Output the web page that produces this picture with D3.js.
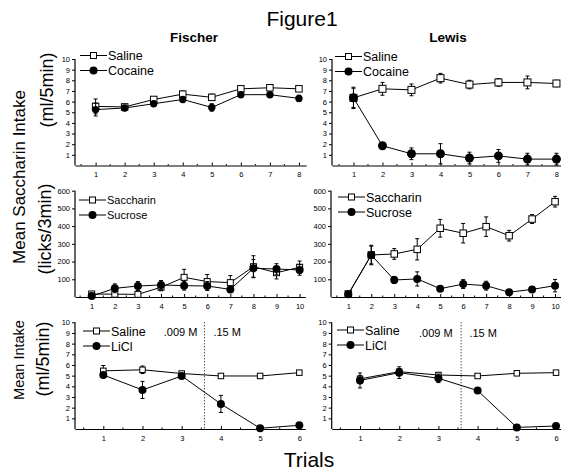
<!DOCTYPE html>
<html><head><meta charset="utf-8">
<script src="https://cdn.jsdelivr.net/npm/d3@7"></script>
<style>body{margin:0;background:#fff}svg{display:block}text{font-family:"Liberation Sans",Arial,sans-serif;fill:#000}</style>
</head><body><svg id="c" width="561" height="475"></svg>
<script>
// ---------- data ----------
const trials8 = [1, 2, 3, 4, 5, 6, 7, 8];
const trials10 = [1, 2, 3, 4, 5, 6, 7, 8, 9, 10];
const trials6 = [1, 2, 3, 4, 5, 6];
const ticksMl = [1, 2, 3, 4, 5, 6, 7, 8, 9, 10];
const ticksLicks = [100, 200, 300, 400, 500, 600];

// Row 1: saccharin intake (ml/5min), saline vs cocaine
const fischerSaline = [5.55, 5.5, 6.2, 6.7, 6.4, 7.2, 7.3, 7.2];
const fischerSalineErr = [0.7, 0.2, 0.15, 0.3, 0.3, 0.2, 0.2, 0.2];
const fischerCocaine = [5.25, 5.4, 5.8, 6.2, 5.45, 6.65, 6.65, 6.3];
const fischerCocaineErr = [0.6, 0.25, 0.2, 0.2, 0.35, 0.15, 0.2, 0.3];
const lewisSaline = [6.35, 7.2, 7.1, 8.2, 7.6, 7.8, 7.8, 7.7];
const lewisSalineErr = [1.0, 0.6, 0.55, 0.45, 0.4, 0.35, 0.6, 0.3];
const lewisCocaine = [6.35, 1.85, 1.1, 1.1, 0.7, 0.9, 0.6, 0.6];
const lewisCocaineErr = [0.9, 0.3, 0.55, 0.95, 0.55, 0.6, 0.55, 0.55];

// Row 2: licks/3min, saccharin vs sucrose
const fischerSaccharin = [17, 16, 15, 55, 111, 87, 81, 171, 137, 168];
const fischerSaccharinErr = [10, 10, 10, 20, 45, 40, 40, 62, 35, 35];
const fischerSucrose = [5, 49, 62, 68, 64, 62, 43, 162, 158, 153];
const fischerSucroseErr = [5, 25, 25, 25, 25, 25, 15, 50, 30, 30];
const lewisSaccharin = [17, 237, 243, 269, 388, 360, 397, 346, 440, 538];
const lewisSaccharinErr = [8, 55, 30, 60, 50, 55, 55, 30, 25, 30];
const lewisSucrose = [15, 237, 96, 102, 47, 73, 64, 27, 43, 64];
const lewisSucroseErr = [8, 50, 20, 40, 12, 25, 25, 10, 15, 35];

// Row 3: intake (ml/5min), saline vs LiCl
const fischerSaline3 = [5.45, 5.55, 5.2, 4.97, 4.97, 5.28];
const fischerSaline3Err = [0.5, 0.35, 0.2, 0.1, 0.1, 0.15];
const fischerLiCl = [5.06, 3.66, 4.97, 2.35, 0.07, 0.35];
const fischerLiClErr = [0.2, 0.8, 0.2, 0.8, 0.05, 0.1];
const lewisSaline3 = [4.7, 5.37, 5.06, 4.97, 5.22, 5.28];
const lewisSaline3Err = [0.3, 0.3, 0.2, 0.1, 0.1, 0.1];
const lewisLiCl = [4.55, 5.28, 4.75, 3.6, 0.15, 0.28];
const lewisLiClErr = [0.7, 0.55, 0.4, 0.1, 0.05, 0.05];
const concentrationSwitch = 3.58;
const concentrationLabels = [".009 M", ".15 M"];

// ---------- drawing ----------
const svg = d3.select("#c");
const fmt = d3.format("d");

function panel(p) {
  const g = svg.append("g");
  const x = d3.scaleLinear().domain(p.xd).range(p.xr);
  const y = d3.scaleLinear().domain(p.yd).range(p.yr);
  // axes
  const xAxis = d3.axisBottom(x).tickValues(p.trials).tickFormat(fmt).tickSizeInner(-3).tickSizeOuter(0).tickPadding(6);
  const gx = g.append("g").attr("transform", `translate(0,${p.yr[0]})`).call(xAxis);
  gx.selectAll("text").attr("font-size", 7.5).attr("dy", "0.75em").attr("fill", "#222");
  gx.selectAll("line").attr("stroke", "#000");
  gx.select(".domain").attr("stroke", "#000").attr("stroke-width", 1.2);
  // minor x ticks
  const minors = p.trials.map(t => t + 0.5).concat([p.trials[0] - 0.5]).filter(v => v > p.xd[0] && v < p.xd[1]);
  g.selectAll(".mx").data(minors).join("line")
    .attr("x1", d => x(d)).attr("x2", d => x(d))
    .attr("y1", p.yr[0]).attr("y2", p.yr[0] - 1.5).attr("stroke", "#000");
  const yAxis = d3.axisLeft(y).tickValues(p.yticks).tickFormat(fmt).tickSizeInner(3).tickSizeOuter(0).tickPadding(2);
  const gy = g.append("g").attr("transform", `translate(${p.xr[0]},0)`).call(yAxis);
  gy.selectAll("text").attr("font-size", 7.5).attr("fill", "#222");
  gy.selectAll("line").attr("stroke", "#000");
  gy.select(".domain").attr("stroke", "#000").attr("stroke-width", 1.2)
    .attr("d", `M0,${p.yr[0]}V${p.yr[1]}`);

  // dotted divider
  if (p.divider) {
    g.append("line").attr("x1", x(p.divider)).attr("x2", x(p.divider))
      .attr("y1", y(p.yd[1])).attr("y2", p.yr[0])
      .attr("stroke", "#000").attr("stroke-dasharray", "1,2");
    g.append("text").attr("x", x(p.divider) - p.divOff[0]).attr("y", p.divY)
      .attr("text-anchor", "end").attr("font-size", 11).text(concentrationLabels[0]);
    g.append("text").attr("x", x(p.divider) + p.divOff[1]).attr("y", p.divY)
      .attr("font-size", 11).text(concentrationLabels[1]);
  }

  const line = d3.line().x(d => x(d[0])).y(d => y(d[1]));
  p.series.forEach(s => {
    const pts = p.trials.map((t, i) => [t, s.v[i], s.e[i]]);
    g.append("path").attr("d", line(pts)).attr("fill", "none").attr("stroke", "#000").attr("stroke-width", 1);
    const eb = g.append("g").attr("stroke", "#000").attr("stroke-width", 1);
    pts.forEach(d => {
      const xx = x(d[0]), yt = y(d[1] + d[2]), yb = y(Math.max(p.yd[0], d[1] - d[2]));
      eb.append("line").attr("x1", xx).attr("x2", xx).attr("y1", yt).attr("y2", yb);
      eb.append("line").attr("x1", xx - 2).attr("x2", xx + 2).attr("y1", yt).attr("y2", yt);
      eb.append("line").attr("x1", xx - 2).attr("x2", xx + 2).attr("y1", yb).attr("y2", yb);
    });
    pts.forEach(d => marker(g, s.shape, x(d[0]), y(d[1]), s.shape === "sq" ? p.sq : p.r));
  });

  // legend
  p.series.forEach((s, i) => {
    const ly = p.leg[1] + i * p.leg[3];
    g.append("line").attr("x1", p.leg[0]).attr("x2", p.leg[0] + 27).attr("y1", ly).attr("y2", ly)
      .attr("stroke", "#000").attr("stroke-width", 1);
    marker(g, s.shape, p.leg[0] + 13.5, ly, s.shape === "sq" ? 6 : 4);
    g.append("text").attr("x", p.leg[0] + 28).attr("y", ly).attr("dy", "0.36em")
      .attr("font-size", p.leg[2]).text(s.name);
  });

  if (p.title) {
    g.append("text").attr("x", p.title[1]).attr("y", 42).attr("text-anchor", "middle")
      .attr("font-size", 13.5).attr("font-weight", "bold").text(p.title[0]);
  }
}

function marker(g, shape, cx, cy, s) {
  if (shape === "sq") {
    g.append("rect").attr("x", cx - s / 2).attr("y", cy - s / 2).attr("width", s).attr("height", s)
      .attr("fill", "#fff").attr("stroke", "#000").attr("stroke-width", 1);
  } else {
    g.append("circle").attr("cx", cx).attr("cy", cy).attr("r", s).attr("fill", "#000");
  }
}

// Row 1
panel({ trials: trials8, xd: [0.29, 8.25], xr: [75, 306.2], yd: [0, 10], yr: [165.5, 59], yticks: ticksMl,
  sq: 6.5, r: 3.7, leg: [80, 55.5, 12.5, 15], title: ["Fischer", 194],
  series: [{ name: "Saline", shape: "sq", v: fischerSaline, e: fischerSalineErr },
           { name: "Cocaine", shape: "ci", v: fischerCocaine, e: fischerCocaineErr }] });
panel({ trials: trials8, xd: [0.26, 8.25], xr: [332, 563.7], yd: [0, 10], yr: [165.5, 59], yticks: ticksMl,
  sq: 7, r: 4.5, leg: [335, 56.5, 12.5, 15], title: ["Lewis", 448],
  series: [{ name: "Saline", shape: "sq", v: lewisSaline, e: lewisSalineErr },
           { name: "Cocaine", shape: "ci", v: lewisCocaine, e: lewisCocaineErr }] });
// Row 2
panel({ trials: trials10, xd: [0.277, 10.25], xr: [75, 305.4], yd: [0, 600], yr: [297, 190.7], yticks: ticksLicks,
  sq: 6, r: 4, leg: [79, 200, 11, 15],
  series: [{ name: "Saccharin", shape: "sq", v: fischerSaccharin, e: fischerSaccharinErr },
           { name: "Sucrose", shape: "ci", v: fischerSucrose, e: fischerSucroseErr }] });
panel({ trials: trials10, xd: [0.247, 10.25], xr: [331, 560.8], yd: [0, 600], yr: [297, 190.7], yticks: ticksLicks,
  sq: 6.5, r: 4, leg: [338, 197, 12.5, 15],
  series: [{ name: "Saccharin", shape: "sq", v: lewisSaccharin, e: lewisSaccharinErr },
           { name: "Sucrose", shape: "ci", v: lewisSucrose, e: lewisSucroseErr }] });
// Row 3
panel({ trials: trials6, xd: [0.278, 6.15], xr: [75, 305.2], yd: [0, 10], yr: [429, 322.3], yticks: ticksMl,
  sq: 5.5, r: 4, leg: [83, 331, 12.5, 15], divider: concentrationSwitch, divOff: [7, 9], divY: 336,
  series: [{ name: "Saline", shape: "sq", v: fischerSaline3, e: fischerSaline3Err },
           { name: "LiCl", shape: "ci", v: fischerLiCl, e: fischerLiClErr }] });
panel({ trials: trials6, xd: [0.278, 6.15], xr: [331.7, 561.9], yd: [0, 10], yr: [429, 322.3], yticks: ticksMl,
  sq: 5.5, r: 4, leg: [337, 330, 12.5, 15], divider: concentrationSwitch, divOff: [8.5, 8.3], divY: 337,
  series: [{ name: "Saline", shape: "sq", v: lewisSaline3, e: lewisSaline3Err },
           { name: "LiCl", shape: "ci", v: lewisLiCl, e: lewisLiClErr }] });

// titles and shared labels
svg.append("text").attr("x", 302).attr("y", 26).attr("text-anchor", "middle").attr("font-size", 21).text("Figure1");
svg.append("text").attr("x", 309).attr("y", 467).attr("text-anchor", "middle").attr("font-size", 21).text("Trials");
function vlab(txt, x, y, fs) {
  svg.append("text").attr("transform", `translate(${x},${y}) rotate(-90)`).attr("text-anchor", "middle")
    .attr("font-size", fs).text(txt);
}
vlab("Mean Saccharin Intake", 25, 177, 17);
vlab("(ml/5min)", 53, 90, 18);
vlab("(licks/3min)", 51, 229, 18);
vlab("Mean Intake", 23.5, 360, 14.5);
vlab("(ml/5min)", 49, 359, 18);
</script></body></html>
